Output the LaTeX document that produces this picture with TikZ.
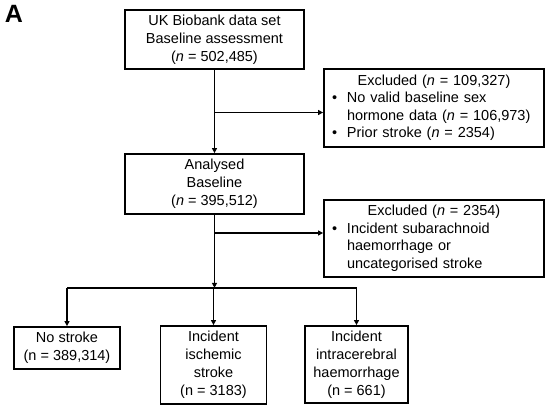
\documentclass[tikz,border=0pt]{standalone}
\usepackage{fontspec}
\setmainfont{Liberation Sans}
\usetikzlibrary{arrows.meta}
\newcommand{\extitle}[1]{\multicolumn{2}{@{}l@{}}{\makebox[204pt]{#1}}}
\begin{document}
\begin{tikzpicture}[x=1pt,y=-1pt,
    box/.style={draw,line width=1.8pt,align=center,inner sep=0pt,font=\fontsize{14.5}{18}\selectfont},
    exbox/.style={draw,line width=1.8pt,text width=204pt,align=left,inner xsep=8pt,inner ysep=0pt,font=\fontsize{14.5}{17.5}\selectfont},
    arr/.style={line width=1.8pt,-{Triangle[length=5pt,width=5pt]}},
    ln/.style={line width=1.8pt}]
  \useasboundingbox (0,0) rectangle (550,408);
  \node[font=\fontsize{25}{25}\selectfont\bfseries] (lab) at (14,14) {A};
  \node[box,minimum width=179pt,minimum height=59pt] (ukb) at (214.5,39.5) {UK Biobank data set\\Baseline assessment\\(\textit{n} = 502,485)};
  \node[exbox,minimum height=78pt] (exc1) at (434,108) {\begin{tabular}{@{}p{15pt}@{}l@{}}
      \extitle{Excluded (\textit{n} = 109,327)}\\
      \textbullet & No valid baseline sex\\
      & hormone data (\textit{n} = 106,973)\\
      \textbullet & Prior stroke (\textit{n} = 2354)
    \end{tabular}};
  \node[box,minimum width=179pt,minimum height=60pt] (ana) at (214.5,184) {Analysed\\Baseline\\(\textit{n} = 395,512)};
  \node[exbox,minimum height=77pt] (exc2) at (434,238.5) {\begin{tabular}{@{}p{15pt}@{}l@{}}
      \extitle{Excluded (\textit{n} = 2354)}\\
      \textbullet & Incident subarachnoid\\
      & haemorrhage or\\
      & uncategorised stroke
    \end{tabular}};
  \node[box,minimum width=106pt,minimum height=42pt] (nost) at (67,348) {No stroke\\(n = 389,314)};
  \node[box,minimum width=106pt,minimum height=78pt] (isch) at (213.5,365) {Incident\\ischemic\\stroke\\(n = 3183)};
  \node[box,minimum width=103pt,minimum height=77pt] (ich) at (356.5,364.5) {Incident\\intracerebral\\haemorrhage\\(n = 661)};
  \coordinate (j1) at ([yshift=-4.5pt]exc1.west);
  \coordinate (j2) at ([yshift=5.5pt]exc2.west);
  \path (ana.south) ++(0,73) coordinate (split);
  \draw[arr] (ukb.south) -- (ana.north);
  \draw[arr] (ukb.south |- j1) -- (j1);
  \draw[arr] (ana.south |- j2) -- (j2);
  \draw[arr] (ana.south) -- (split);
  \draw[ln] (nost.north |- split) -- (ich.north |- split);
  \draw[arr] (nost.north |- split) -- (nost.north);
  \draw[arr] (isch.north |- split) -- (isch.north);
  \draw[arr] (ich.north |- split) -- (ich.north);
\end{tikzpicture}
\end{document}
